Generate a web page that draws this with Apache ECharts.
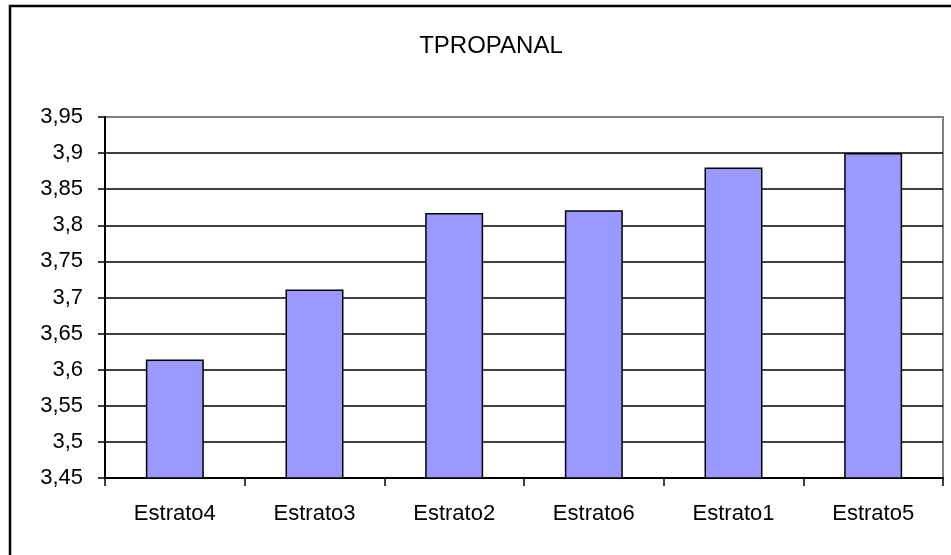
<!DOCTYPE html>
<html>
<head>
<meta charset="utf-8">
<script src="https://cdn.jsdelivr.net/npm/echarts@6/dist/echarts.min.js"></script>
<style>
  html, body { margin: 0; padding: 0; background: #fff; }
  #chart { width: 951px; height: 555px; }
</style>
</head>
<body>
<div id="chart"></div>
<script>
var categories = ['Estrato4', 'Estrato3', 'Estrato2', 'Estrato6', 'Estrato1', 'Estrato5'];
var values = [3.614, 3.711, 3.817, 3.821, 3.880, 3.900];
var yTickLabels = ['3,45', '3,5', '3,55', '3,6', '3,65', '3,7', '3,75', '3,8', '3,85', '3,9', '3,95'];

var myChart = echarts.init(document.getElementById('chart'));

// linhas de grade pretas, a ultima (topo) fica cinza como a borda
var gridColors = yTickLabels.map(function (t, i) {
  return i === yTickLabels.length - 1 ? '#808080' : '#000';
});

var option = {
  animation: false,
  textStyle: { fontFamily: 'Arial, "Liberation Sans", sans-serif' },
  title: {
    text: 'TPROPANAL',
    left: 486,
    textAlign: 'center',
    top: 29,
    textStyle: { fontSize: 24, fontWeight: 'normal', color: '#000' }
  },
  graphic: [{
    type: 'rect',
    shape: { x: 10, y: 6, width: 1000, height: 600 },
    style: { fill: 'none', stroke: '#000', lineWidth: 2.5 },
    silent: true
  }],
  grid: {
    left: 105,
    right: 8,
    top: 117,
    bottom: 77,
    show: true,
    borderColor: '#808080',
    borderWidth: 2
  },
  xAxis: {
    type: 'category',
    data: categories,
    axisLine: { lineStyle: { color: '#000', width: 2 } },
    axisTick: { show: true, length: 8, lineStyle: { color: '#000', width: 1.5 } },
    axisLabel: { color: '#000', fontSize: 22, margin: 25 }
  },
  yAxis: {
    type: 'value',
    min: 3.45,
    max: 3.95,
    interval: 0.05,
    axisLine: { show: true, lineStyle: { color: '#000', width: 2 } },
    axisTick: { show: true, length: 7, lineStyle: { color: '#000', width: 1.5 } },
    axisLabel: {
      color: '#000',
      fontSize: 22,
      margin: 22,
      formatter: function (v) {
        return yTickLabels[Math.round((v - 3.45) / 0.05)];
      }
    },
    splitLine: { show: true, lineStyle: { color: gridColors, width: 1.5 } }
  },
  series: [{
    type: 'bar',
    data: values,
    barWidth: '41.5%',
    itemStyle: { color: '#9999FF', borderColor: '#000', borderWidth: 1.5 }
  }]
};

myChart.setOption(option);
</script>
</body>
</html>
